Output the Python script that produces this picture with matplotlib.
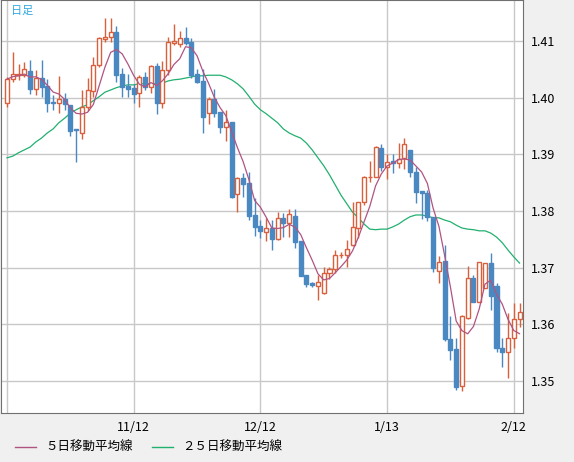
import numpy as np
import pandas as pd
import matplotlib
matplotlib.use("Agg")
import matplotlib.pyplot as plt
from matplotlib.lines import Line2D
from matplotlib.patches import Rectangle

plt.rcParams['font.family'] = ['Noto Sans CJK JP', 'DejaVu Sans']

# daily candles (open, high, low, close)
opens = [1.3991, 1.4033, 1.4040, 1.4040, 1.4048, 1.4016, 1.4035, 1.4021, 1.3993, 1.3991,
         1.3998, 1.3987, 1.3945, 1.3938, 1.3984, 1.4012, 1.4058, 1.4104, 1.4108, 1.4116,
         1.4042, 1.4021, 1.4018, 1.4009, 1.4037, 1.4019, 1.4056, 1.3991, 1.4049, 1.4097,
         1.4095, 1.4106, 1.4099, 1.4042, 1.4030, 1.3973, 1.3998, 1.3975, 1.3949, 1.3957,
         1.3830, 1.3858, 1.3850, 1.3793, 1.3774, 1.3763, 1.3770, 1.3751, 1.3788, 1.3779,
         1.3791, 1.3747, 1.3687, 1.3673, 1.3668, 1.3655, 1.3691, 1.3698, 1.3722, 1.3722,
         1.3740, 1.3770, 1.3816, 1.3860, 1.3860, 1.3911, 1.3878, 1.3889, 1.3885, 1.3894,
         1.3908, 1.3869, 1.3836, 1.3832, 1.3790, 1.3694, 1.3712, 1.3574, 1.3556, 1.3491,
         1.3611, 1.3682, 1.3639, 1.3664, 1.3708, 1.3668, 1.3558, 1.3551, 1.3576, 1.3609]
highs = [1.4037, 1.4081, 1.4060, 1.4063, 1.4067, 1.4049, 1.4067, 1.4033, 1.4005, 1.4039,
         1.4009, 1.3987, 1.3945, 1.4014, 1.4035, 1.4072, 1.4108, 1.4141, 1.4141, 1.4127,
         1.4053, 1.4042, 1.4025, 1.4040, 1.4046, 1.4058, 1.4062, 1.4065, 1.4108, 1.4131,
         1.4118, 1.4125, 1.4106, 1.4051, 1.4051, 1.4002, 1.4016, 1.3975, 1.3979, 1.3957,
         1.3860, 1.3867, 1.3869, 1.3823, 1.3784, 1.3788, 1.3784, 1.3798, 1.3797, 1.3804,
         1.3804, 1.3747, 1.3687, 1.3675, 1.3687, 1.3701, 1.3701, 1.3731, 1.3728, 1.3749,
         1.3816, 1.3816, 1.3862, 1.3888, 1.3915, 1.3918, 1.3901, 1.3901, 1.3920, 1.3929,
         1.3908, 1.3878, 1.3836, 1.3837, 1.3790, 1.3721, 1.3740, 1.3615, 1.3576, 1.3616,
         1.3703, 1.3687, 1.3710, 1.3708, 1.3726, 1.3673, 1.3576, 1.3620, 1.3638, 1.3638]
lows = [1.3984, 1.4028, 1.4032, 1.4037, 1.4007, 1.4005, 1.4002, 1.3975, 1.3979, 1.3973,
        1.3979, 1.3933, 1.3887, 1.3927, 1.3977, 1.4002, 1.4055, 1.4099, 1.4099, 1.4028,
        1.4002, 1.4002, 1.3991, 1.3984, 1.4014, 1.4009, 1.3972, 1.3982, 1.4040, 1.4093,
        1.4090, 1.4093, 1.4035, 1.4026, 1.3938, 1.3954, 1.3966, 1.3938, 1.3924, 1.3823,
        1.3798, 1.3825, 1.3784, 1.3756, 1.3752, 1.3747, 1.3731, 1.3749, 1.3754, 1.3754,
        1.3735, 1.3685, 1.3666, 1.3666, 1.3643, 1.3653, 1.3680, 1.3691, 1.3717, 1.3701,
        1.3738, 1.3752, 1.3811, 1.3851, 1.3860, 1.3871, 1.3857, 1.3867, 1.3876, 1.3874,
        1.3860, 1.3814, 1.3786, 1.3782, 1.3692, 1.3673, 1.3570, 1.3537, 1.3484, 1.3482,
        1.3609, 1.3639, 1.3639, 1.3664, 1.3625, 1.3551, 1.3525, 1.3505, 1.3558, 1.3595]
closes = [1.4033, 1.4042, 1.4042, 1.4051, 1.4016, 1.4035, 1.4019, 1.3991, 1.3991, 1.3998,
          1.3989, 1.3942, 1.3944, 1.3984, 1.4014, 1.4058, 1.4106, 1.4108, 1.4116, 1.4040,
          1.4019, 1.4016, 1.4007, 1.4037, 1.4019, 1.4056, 1.3991, 1.4049, 1.4099, 1.4101,
          1.4106, 1.4097, 1.4040, 1.4028, 1.3966, 1.3998, 1.3973, 1.3949, 1.3957, 1.3825,
          1.3858, 1.3848, 1.3791, 1.3772, 1.3765, 1.3770, 1.3751, 1.3788, 1.3779, 1.3795,
          1.3745, 1.3685, 1.3671, 1.3669, 1.3675, 1.3691, 1.3698, 1.3722, 1.3723, 1.3733,
          1.3772, 1.3816, 1.3860, 1.3861, 1.3913, 1.3878, 1.3887, 1.3885, 1.3892, 1.3918,
          1.3869, 1.3834, 1.3832, 1.3790, 1.3699, 1.3710, 1.3574, 1.3555, 1.3489, 1.3615,
          1.3682, 1.3639, 1.3710, 1.3708, 1.3650, 1.3558, 1.3551, 1.3576, 1.3609, 1.3622]

# 25-day moving average as drawn
ma25 = [1.3894, 1.3897, 1.3903, 1.3908, 1.3913, 1.3922, 1.3929, 1.3938, 1.3945, 1.3956,
        1.3964, 1.3973, 1.3979, 1.3984, 1.3988, 1.3995, 1.4002, 1.4010, 1.4014, 1.4018,
        1.4021, 1.4023, 1.4023, 1.4025, 1.4025, 1.4025, 1.4025, 1.4026, 1.4030, 1.4032,
        1.4033, 1.4035, 1.4037, 1.4039, 1.4039, 1.4040, 1.4040, 1.4040, 1.4037, 1.4032,
        1.4025, 1.4016, 1.4003, 1.3989, 1.3979, 1.3972, 1.3964, 1.3956, 1.3945, 1.3938,
        1.3933, 1.3929, 1.3920, 1.3908, 1.3894, 1.3880, 1.3864, 1.3846, 1.3828, 1.3813,
        1.3798, 1.3788, 1.3777, 1.3768, 1.3767, 1.3768, 1.3768, 1.3772, 1.3777, 1.3784,
        1.3790, 1.3793, 1.3793, 1.3791, 1.3788, 1.3788, 1.3784, 1.3781, 1.3775, 1.3770,
        1.3768, 1.3767, 1.3765, 1.3765, 1.3761, 1.3754, 1.3744, 1.3731, 1.3719, 1.3708]

tick_pos = [0, 22, 44, 66, 88]
tick_labels = ["", "11/12", "12/12", "1/13", "2/12"]
y_ticks = [1.35, 1.36, 1.37, 1.38, 1.39, 1.40, 1.41]

UP = "#d8603c"
DOWN = "#4a88c2"
C5 = "#b05482"
C25 = "#22b070"

ma5 = pd.Series(closes).rolling(5, min_periods=1).mean()

fig = plt.figure(figsize=(5.74, 4.62), dpi=100, facecolor="#f0f0f0")
ax = fig.add_axes([1 / 574, 1 - 413 / 462, 522 / 574, 413 / 462])
ax.set_facecolor("white")

w = 0.7
for i in range(len(opens)):
    o, h, l, c = opens[i], highs[i], lows[i], closes[i]
    up = c >= o
    col = UP if up else DOWN
    lo, hi = min(o, c), max(o, c)
    ax.vlines(i, l, lo, color=col, lw=1, zorder=3)
    ax.vlines(i, hi, h, color=col, lw=1, zorder=3)
    ax.add_patch(Rectangle((i - w / 2, lo), w, max(hi - lo, 0.00005),
                           facecolor="white" if up else col, edgecolor=col,
                           lw=1, zorder=4))

x = np.arange(len(closes))
ax.plot(x, ma5, color=C5, lw=0.9, zorder=5)
ax.plot(x, ma25, color=C25, lw=0.9, zorder=2)

ax.set_xlim(-1.04, 89.6)
ax.set_ylim(1.3443, 1.4173)
ax.set_xticks(tick_pos)
ax.set_xticklabels(tick_labels)
ax.set_yticks(y_ticks)
ax.set_yticklabels([f"{v:.2f}" for v in y_ticks])
ax.yaxis.tick_right()
ax.tick_params(length=0, labelsize=9, pad=6)
ax.grid(True, color="#c8c8c8", lw=1)
ax.set_axisbelow(True)
for s in ax.spines.values():
    s.set_color("#707070")

ax.text(0.02, 0.985, "日足", transform=ax.transAxes, color="#30a8e0",
        fontsize=8, va="top", ha="left")

# legend under the axis
for x0, col, label in [(15, C5, "５日移動平均線"), (152, C25, "２５日移動平均線")]:
    fig.add_artist(Line2D([x0 / 574, (x0 + 21) / 574], [1 - 447 / 462] * 2,
                          color=col, lw=1))
    fig.text((x0 + 30) / 574, 1 - 447 / 462, label, fontsize=9, va="center")

fig.savefig("out.png", dpi=100, facecolor=fig.get_facecolor())
